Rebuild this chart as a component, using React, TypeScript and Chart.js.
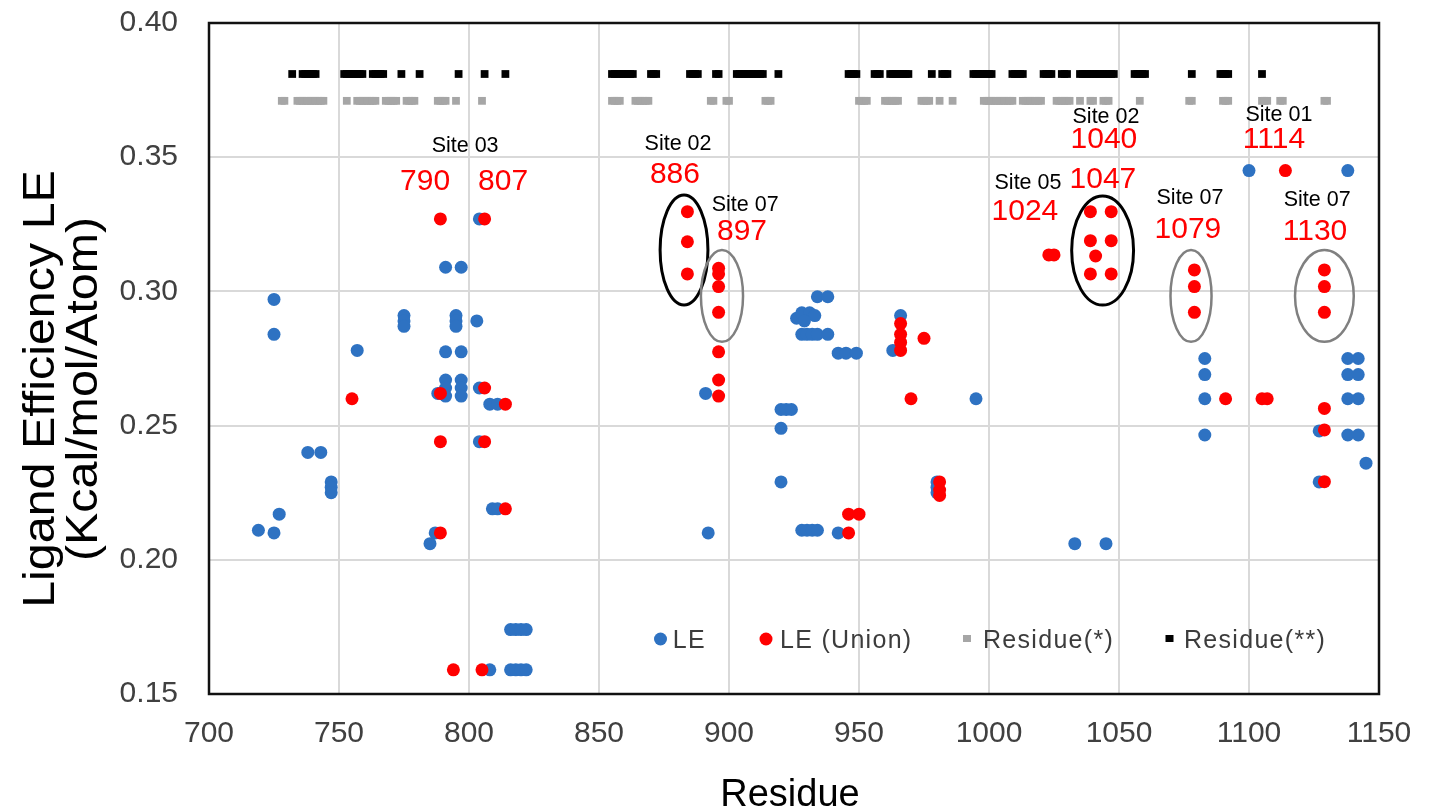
import { useEffect, useRef } from 'react';
import { Chart, registerables } from 'chart.js';

Chart.register(...registerables);

// ---------- data ----------
const xTickValues = [700, 750, 800, 850, 900, 950, 1000, 1050, 1100, 1150];
const yTickValues = [0.15, 0.2, 0.25, 0.3, 0.35, 0.4];

const leResidue = [
  725, 725, 757, 775, 775, 775, 791, 797, 795, 795, 795, 803, 791, 797,
  791, 797, 791, 797, 791, 797, 788, 804, 804, 804, 808, 811,
  738, 743, 747, 747, 747, 727, 719, 725, 787, 785,
  816, 818, 820, 822, 816, 818, 820, 822, 808,
  809, 811,
  891, 934, 938, 926, 928, 931, 933, 929, 928, 930, 932, 934, 938,
  942, 945, 949, 995, 966, 963, 920, 922, 924, 920, 920,
  892, 928, 930, 932, 934, 942, 980, 980, 980,
  1100, 1138, 1083, 1083, 1083, 1083,
  1138, 1142, 1138, 1142, 1138, 1142, 1138, 1142,
  1127, 1127, 1145, 1033, 1045,
];
const leValue = [
  0.297, 0.284, 0.278, 0.291, 0.289, 0.287, 0.309, 0.309, 0.291, 0.289, 0.287, 0.289, 0.2775, 0.2775,
  0.267, 0.267, 0.264, 0.264, 0.261, 0.261, 0.262, 0.327, 0.264, 0.244, 0.258, 0.258,
  0.24, 0.24, 0.229, 0.227, 0.225, 0.217, 0.211, 0.21, 0.21, 0.206,
  0.174, 0.174, 0.174, 0.174, 0.159, 0.159, 0.159, 0.159, 0.159,
  0.219, 0.219,
  0.262, 0.298, 0.298, 0.29, 0.292, 0.292, 0.291, 0.289, 0.284, 0.284, 0.284, 0.284, 0.284,
  0.277, 0.277, 0.277, 0.26, 0.291, 0.278, 0.256, 0.256, 0.256, 0.249, 0.229,
  0.21, 0.211, 0.211, 0.211, 0.211, 0.21, 0.229, 0.227, 0.225,
  0.345, 0.345, 0.275, 0.269, 0.26, 0.2465,
  0.275, 0.275, 0.269, 0.269, 0.26, 0.26, 0.2465, 0.2465,
  0.248, 0.229, 0.236, 0.206, 0.206,
];

const unionResidue = [
  789, 789, 789, 789, 806, 806, 806, 755, 814, 814, 794, 805,
  884, 884, 884, 896, 896, 896, 896, 896, 896, 896,
  966, 966, 966, 966, 975, 970, 946, 946, 950, 981, 981, 981,
  1023, 1025, 1039, 1047, 1039, 1047, 1041, 1039, 1047,
  1114, 1079, 1079, 1079, 1129, 1129, 1129,
  1091, 1105, 1107, 1129, 1129, 1129,
];
const unionValue = [
  0.327, 0.262, 0.244, 0.21, 0.327, 0.264, 0.244, 0.26, 0.258, 0.219, 0.159, 0.159,
  0.3297, 0.3185, 0.3065, 0.3086, 0.3065, 0.3018, 0.2922, 0.2775, 0.267, 0.261,
  0.288, 0.284, 0.281, 0.278, 0.2825, 0.26, 0.21, 0.217, 0.217, 0.229, 0.226, 0.224,
  0.3136, 0.3136, 0.3297, 0.3297, 0.3189, 0.3189, 0.3132, 0.3065, 0.3065,
  0.345, 0.308, 0.3018, 0.2922, 0.308, 0.3018, 0.2922,
  0.26, 0.26, 0.26, 0.2564, 0.2484, 0.2291,
];

const residueStarLevel = 0.371;
const residueStar = [
  728, 729,
  734, 735, 736, 737, 738, 739, 740, 741, 742, 743, 744,
  753,
  757, 758, 759, 760, 761, 762, 763, 764,
  768, 769, 770, 771, 772,
  776, 777, 778, 779,
  788, 789, 790, 791,
  795, 805,
  855, 856, 857, 858,
  864, 865, 866, 867, 868, 869,
  893, 894, 899, 900,
  914, 915, 916,
  950, 951, 952, 953,
  960, 961, 962, 963, 964, 965,
  974, 975, 976, 977,
  981, 986,
  998, 999, 1000, 1001, 1002, 1003, 1004, 1005, 1006, 1007, 1008, 1009,
  1013, 1014, 1015, 1016, 1017, 1018, 1019, 1020,
  1026, 1027, 1028, 1029, 1030, 1031,
  1035, 1039, 1040, 1044, 1045, 1046,
  1058, 1077, 1078,
  1090, 1091, 1092,
  1105, 1106, 1107, 1112, 1113,
  1129, 1130,
];

const residueStar2Level = 0.381;
const residueStar2 = [
  732,
  736, 737, 738, 739, 740, 741,
  752, 753, 754, 755, 756, 757, 758, 759,
  763, 764, 765, 766, 767,
  774, 781, 796, 806, 814,
  855, 856, 857, 858, 859, 860, 861, 862, 863,
  870, 871, 872,
  885, 886, 887, 888,
  895, 896,
  903, 904, 905, 906, 907, 908, 909, 910, 911, 912, 913,
  919,
  946, 947, 948, 949,
  956, 957, 958,
  962, 963, 964, 965, 966, 967, 968, 969,
  978,
  982, 983, 984,
  994, 995, 996, 997, 998, 999, 1000, 1001,
  1009, 1010, 1011, 1012, 1013,
  1021, 1022, 1023, 1024,
  1028, 1029, 1030,
  1035, 1036, 1037, 1038, 1039, 1040, 1041, 1042, 1043, 1044, 1045, 1046, 1047, 1048,
  1056, 1057, 1058, 1059, 1060,
  1078,
  1089, 1090, 1091, 1092,
  1105,
];

// annotations (data coordinates)
const noteText = [
  'Site 03', '790', '807', 'Site 02', '886', 'Site 07', '897',
  'Site 02', '1040', 'Site 01', '1114', 'Site 05', '1047', '1024',
  'Site 07', '1079', 'Site 07', '1130',
];
const noteX = [
  798.5, 783.1, 813.1, 880.4, 879.2, 906.2, 905.0,
  1045.0, 1044.2, 1111.5, 1109.6, 1015.0, 1043.8, 1013.8,
  1077.3, 1076.5, 1126.2, 1125.4,
];
const noteY = [
  0.3542, 0.3408, 0.3408, 0.3549, 0.3434, 0.3322, 0.3221,
  0.365, 0.3564, 0.3657, 0.3564, 0.3404, 0.3415, 0.3296,
  0.3348, 0.3229, 0.334, 0.3221,
];
const noteIsSite = noteText.map((t) => t.startsWith('Site'));

const ellipseX = [882.7, 897.3, 1043.7, 1077.7, 1129.0];
const ellipseY = [0.3154, 0.2983, 0.3152, 0.2983, 0.2983];
const ellipseHalfW = [9.2, 8.1, 11.9, 7.9, 11.3];
const ellipseHalfH = [0.0205, 0.0171, 0.0203, 0.0171, 0.0171];
const ellipseIsBlack = [true, false, true, false, false];

const legendLabels = ['LE', 'LE (Union)', 'Residue(*)', 'Residue(**)'];

// ---------- styles ----------
const BLUE = '#2E72C2';
const RED = '#FF0000';
const GRAY = '#A6A6A6';
const BLACK = '#000000';
const FONT = '"Liberation Sans", Arial, sans-serif';

const decorPlugin = {
  id: 'decor',
  afterDraw(chart: any) {
    const { ctx, chartArea } = chart;
    const xs = chart.scales.x;
    const ys = chart.scales.y;
    ctx.save();

    // frame
    ctx.strokeStyle = '#111111';
    ctx.lineWidth = 2.5;
    ctx.strokeRect(chartArea.left, chartArea.top, chartArea.right - chartArea.left, chartArea.bottom - chartArea.top);

    // ellipses
    ellipseX.forEach((cx, i) => {
      const px = xs.getPixelForValue(cx);
      const py = ys.getPixelForValue(ellipseY[i]);
      const rx = Math.abs(xs.getPixelForValue(cx + ellipseHalfW[i]) - px);
      const ry = Math.abs(ys.getPixelForValue(ellipseY[i] + ellipseHalfH[i]) - py);
      ctx.beginPath();
      ctx.ellipse(px, py, rx, ry, 0, 0, Math.PI * 2);
      ctx.strokeStyle = ellipseIsBlack[i] ? '#000000' : '#808080';
      ctx.lineWidth = ellipseIsBlack[i] ? 3 : 2.5;
      ctx.stroke();
    });

    // notes
    ctx.textAlign = 'center';
    ctx.textBaseline = 'middle';
    noteText.forEach((t, i) => {
      const px = xs.getPixelForValue(noteX[i]);
      const py = ys.getPixelForValue(noteY[i]);
      if (noteIsSite[i]) {
        ctx.font = `21.5px ${FONT}`;
        ctx.fillStyle = '#000000';
      } else {
        ctx.font = `30px ${FONT}`;
        ctx.fillStyle = RED;
      }
      ctx.fillText(t, px, py);
    });

    // legend (inside plot area)
    const ly = chartArea.top + 617;
    const markerX = [451.5, 557, 758, 960.5].map((v) => chartArea.left + v);
    const textX = [463.7, 571, 774, 975].map((v) => chartArea.left + v);
    const markerColor = [BLUE, RED, GRAY, BLACK];
    legendLabels.forEach((lab, i) => {
      ctx.fillStyle = markerColor[i];
      if (i < 2) {
        ctx.beginPath();
        ctx.arc(markerX[i], ly - 1, 6.5, 0, Math.PI * 2);
        ctx.fill();
      } else {
        ctx.fillRect(markerX[i] - 4, ly - 5, 8, 7);
      }
      ctx.font = `25px ${FONT}`;
      (ctx as any).letterSpacing = '1.3px';
      ctx.fillStyle = '#3c3c3c';
      ctx.textAlign = 'left';
      ctx.textBaseline = 'middle';
      ctx.fillText(lab, textX[i], ly + 1);
    });
    (ctx as any).letterSpacing = '0px';

    // axis titles
    ctx.fillStyle = '#000000';
    ctx.font = `38px ${FONT}`;
    ctx.textAlign = 'center';
    ctx.textBaseline = 'middle';
    ctx.fillText('Residue', (chartArea.left + chartArea.right) / 2 - 4, 796);
    ctx.font = `44px ${FONT}`;
    ctx.save();
    ctx.translate(42, 389);
    ctx.rotate(-Math.PI / 2);
    ctx.scale(1.1, 1);
    ctx.fillText('Ligand Efficiency LE', 0, 0);
    ctx.restore();
    ctx.save();
    ctx.translate(85, 389);
    ctx.rotate(-Math.PI / 2);
    ctx.scale(1.1, 1);
    ctx.fillText('(Kcal/mol/Atom)', 0, 0);
    ctx.restore();

    ctx.restore();
  },
};

export default function App() {
  const canvasRef = useRef<HTMLCanvasElement | null>(null);

  useEffect(() => {
    const canvas = canvasRef.current;
    if (!canvas) return;
    const toPts = (xs: number[], ys: number[]) => xs.map((x, i) => ({ x, y: ys[i] }));
    const chart = new Chart(canvas, {
      type: 'scatter',
      data: {
        datasets: [
          {
            label: 'LE',
            data: toPts(leResidue, leValue),
            backgroundColor: BLUE,
            borderColor: BLUE,
            borderWidth: 0,
            pointRadius: 6.5,
            order: 2,
          },
          {
            label: 'LE (Union)',
            data: toPts(unionResidue, unionValue),
            backgroundColor: RED,
            borderColor: RED,
            borderWidth: 0,
            pointRadius: 6.5,
            order: 1,
          },
          {
            label: 'Residue(*)',
            data: residueStar.map((r) => ({ x: r, y: residueStarLevel })),
            backgroundColor: GRAY,
            borderColor: GRAY,
            borderWidth: 0,
            pointStyle: 'rect',
            pointRadius: 5.5,
            order: 3,
          },
          {
            label: 'Residue(**)',
            data: residueStar2.map((r) => ({ x: r, y: residueStar2Level })),
            backgroundColor: BLACK,
            borderColor: BLACK,
            borderWidth: 0,
            pointStyle: 'rect',
            pointRadius: 5.5,
            order: 4,
          },
        ],
      },
      options: {
        animation: false,
        responsive: false,
        devicePixelRatio: 1,
        events: [],
        layout: { padding: { top: 23, right: 52, left: 0, bottom: 0 } },
        plugins: {
          legend: { display: false },
          tooltip: { enabled: false },
        },
        scales: {
          x: {
            type: 'linear',
            min: 700,
            max: 1150,
            afterFit: (s: any) => {
              s.height = 115;
              s.paddingLeft = 0;
              s.paddingRight = 0;
            },
            afterBuildTicks: (s: any) => {
              s.ticks = xTickValues.map((v) => ({ value: v }));
            },
            ticks: {
              padding: 22,
              color: '#404040',
              font: { family: FONT, size: 30 },
              callback: (v: any) => String(v),
            },
            grid: { color: '#d9d9d9', lineWidth: 2, drawTicks: false },
            border: { display: false },
          },
          y: {
            type: 'linear',
            min: 0.15,
            max: 0.4,
            afterFit: (s: any) => {
              s.width = 209;
              s.paddingTop = 0;
              s.paddingBottom = 0;
            },
            afterBuildTicks: (s: any) => {
              s.ticks = yTickValues.map((v) => ({ value: v }));
            },
            ticks: {
              padding: 31,
              color: '#404040',
              font: { family: FONT, size: 30 },
              callback: (v: any) => Number(v).toFixed(2),
            },
            grid: { color: '#d9d9d9', lineWidth: 2, drawTicks: false },
            border: { display: false },
          },
        },
      },
      plugins: [decorPlugin],
    });
    return () => chart.destroy();
  }, []);

  return (
    <div style={{ position: 'fixed', left: 0, top: 0, width: 1431, height: 809, background: '#ffffff' }}>
      <canvas ref={canvasRef} width={1431} height={809} style={{ display: 'block' }} />
    </div>
  );
}
